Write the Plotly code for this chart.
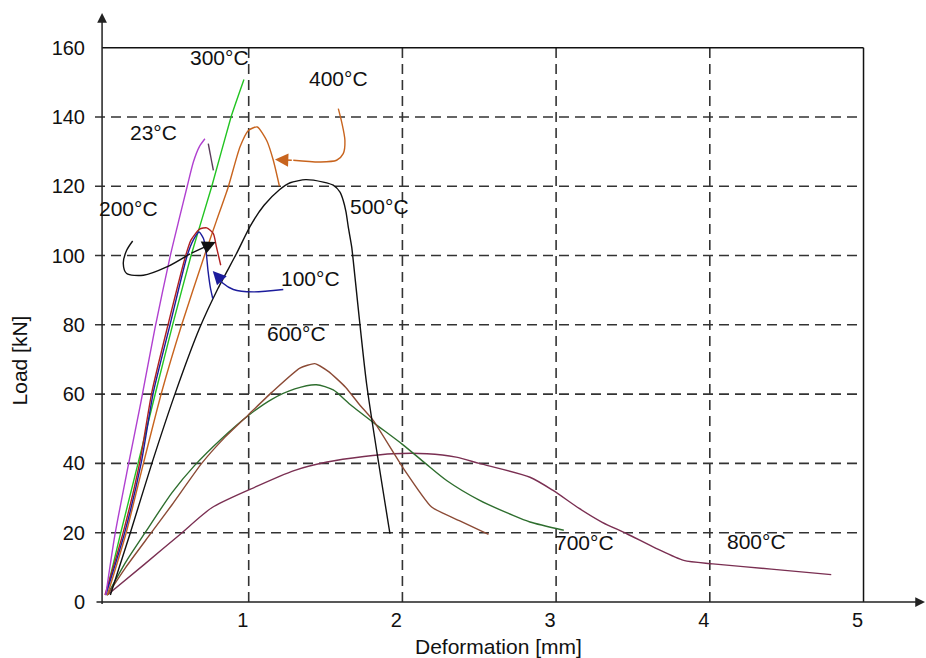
import plotly.graph_objects as go

# ---------------- data ----------------
x_ticks = [1, 2, 3, 4, 5]
y_ticks = [0, 20, 40, 60, 80, 100, 120, 140, 160]

t23_x = [0.07, 0.13, 0.21, 0.30, 0.39, 0.49, 0.55, 0.60, 0.64, 0.68, 0.715]
t23_y = [2, 19.5, 38, 58, 79, 100, 111, 120, 127, 131.5, 133.7]
t23_unload_x = [0.737, 0.77]
t23_unload_y = [132.3, 124.6]

t300_x = [0.07, 0.165, 0.28, 0.395, 0.505, 0.625, 0.76, 0.885, 0.969]
t300_y = [2, 19.5, 40, 60.6, 80, 100, 120, 140, 150.8]

t100_x = [0.07, 0.19, 0.30, 0.38, 0.488, 0.6, 0.64, 0.677, 0.705, 0.722, 0.735, 0.75, 0.766]
t100_y = [2, 19.5, 40, 60.6, 80, 100, 104.5, 106.8, 105, 101.5, 95.7, 90.9, 87.6]

t200_x = [0.065, 0.18, 0.29, 0.37, 0.475, 0.59, 0.625, 0.68, 0.727, 0.77, 0.79, 0.818]
t200_y = [2, 19.5, 40, 60.6, 80, 100, 104.5, 107.6, 108, 106.3, 102.5, 97.2]

t400_x = [0.08, 0.2, 0.315, 0.434, 0.564, 0.709, 0.79, 0.867, 0.943, 0.998, 1.056, 1.117, 1.16, 1.2]
t400_y = [2, 19.5, 40, 60.6, 80, 99.6, 110, 119.8, 131.3, 136.1, 137.1, 133.2, 127.5, 120]

t500_x = [0.1, 0.23, 0.37, 0.52, 0.68, 0.8, 0.92, 1.01, 1.1, 1.2, 1.27, 1.37,
          1.485, 1.55, 1.594, 1.615, 1.633, 1.648, 1.67, 1.68, 1.767, 1.919]
t500_y = [2, 20, 40, 60, 79, 90.5, 100.5, 108.5, 114.5, 119, 121, 121.9,
          121.2, 120.3, 118.3, 115.9, 112.6, 108.2, 102.5, 98.6, 63, 19.7]

t600_x = [0.08, 0.2, 0.358, 0.5, 0.694, 0.84, 0.997, 1.15, 1.333, 1.43, 1.52, 1.63,
          1.72, 1.81, 2.0, 2.19, 2.37, 2.56]
t600_y = [2, 10, 19.5, 28, 40, 47.3, 54, 60.5, 67.5, 68.8, 66.5, 62,
          57, 52.4, 39, 27.4, 23.5, 19.5]

t700_x = [0.08, 0.2, 0.326, 0.5, 0.65, 0.82, 1.0, 1.15, 1.3, 1.44, 1.55, 1.66,
          1.82, 2.0, 2.15, 2.29, 2.5, 2.72, 2.83, 3.05]
t700_y = [2, 11.5, 20, 31.5, 39.5, 47, 53.9, 58.5, 61.5, 62.7, 61.2, 57,
          51.5, 45.5, 40, 35, 29.4, 25, 23.1, 20.7]

t800_x = [0.08, 0.325, 0.553, 0.76, 1.008, 1.3, 1.51, 1.75, 1.94, 2.16, 2.35, 2.5,
          2.83, 2.98, 3.15, 3.3, 3.46, 3.65, 3.83, 4.02, 4.4, 4.79]
t800_y = [2, 11, 19.5, 27.2, 32.5, 38, 40.4, 42, 42.8, 42.8, 41.8, 40,
          36, 32.2, 27, 23, 19.7, 15.5, 12, 11, 9.5, 7.9]

# callout leader curves (label -> curve)
c400_x = [1.583, 1.605, 1.626, 1.615, 1.572, 1.464, 1.29, 1.171]
c400_y = [142.4, 138.5, 133.2, 129.4, 127.5, 127, 127.5, 127.7]
c100_x = [1.225, 1.03, 0.9, 0.835, 0.802, 0.766]
c100_y = [90.2, 89.5, 90.2, 91.9, 93.8, 95.5]
c200_x = [0.245, 0.206, 0.184, 0.206, 0.315, 0.467, 0.618, 0.785]
c200_y = [104.2, 101.5, 97.7, 94.8, 94.3, 96.7, 100.5, 103.9]

labels = ["300°C", "400°C", "23°C", "200°C", "500°C", "100°C", "600°C", "700°C", "800°C"]
label_x = [0.807, 1.581, 0.378, 0.215, 1.854, 1.399, 1.308, 3.187, 4.306]
label_y = [157.2, 151.1, 135.6, 113.6, 114.2, 93.4, 77.5, 17.2, 17.5]

# ---------------- styling ----------------
FONT = "Liberation Sans, Arial, sans-serif"
X_MAX, Y_MAX = 5.4, 170
AXIS_X = 0.046
GRID_DASH = "10px,6px"
GRID_COLOR = "#333333"

fig = go.Figure()

series = [
    (t800_x, t800_y, "#7a2f52", "800°C", 0.7),
    (t700_x, t700_y, "#2e6e2e", "700°C", 0.7),
    (t600_x, t600_y, "#8b4a35", "600°C", 0.5),
    (t500_x, t500_y, "#111111", "500°C", 0.6),
    (t400_x, t400_y, "#c8641e", "400°C", 0.6),
    (t300_x, t300_y, "#22c422", "300°C", 0.3),
    (t200_x, t200_y, "#b02020", "200°C", 0.6),
    (t100_x, t100_y, "#1c1c9c", "100°C", 0.6),
    (t23_x, t23_y, "#b040d0", "23°C", 0.6),
    (t23_unload_x, t23_unload_y, "#5a3d5a", "23°C unload", 0.0),
]
for xs, ys, col, name, sm in series:
    fig.add_trace(go.Scatter(
        x=xs, y=ys, mode="lines", name=name,
        line=dict(color=col, width=1.4, shape="spline" if sm > 0 else "linear",
                  smoothing=sm if sm > 0 else None),
        hoverinfo="skip", showlegend=False))

callouts = [
    (c400_x, c400_y, "#c8641e"),
    (c100_x, c100_y, "#1c1c9c"),
    (c200_x, c200_y, "#111111"),
]
annotations = []
for xs, ys, col in callouts:
    fig.add_trace(go.Scatter(
        x=xs[:-1], y=ys[:-1], mode="lines",
        line=dict(color=col, width=1.4, shape="spline", smoothing=0.8),
        hoverinfo="skip", showlegend=False))
    annotations.append(dict(
        x=xs[-1], y=ys[-1], ax=xs[-2], ay=ys[-2], xref="x", yref="y",
        axref="x", ayref="y", text="", showarrow=True, arrowhead=2,
        arrowsize=1.9, arrowwidth=1.4, arrowcolor=col, standoff=0))

# gridlines (dashed) and frame lines (solid)
shapes = []
for yv in y_ticks[1:-1]:
    shapes.append(dict(type="line", xref="x", yref="y", x0=0, x1=x_ticks[-1], y0=yv, y1=yv,
                       line=dict(color=GRID_COLOR, width=1.6, dash=GRID_DASH), layer="below"))
for xv in x_ticks[:-1]:
    shapes.append(dict(type="line", xref="x", yref="y", x0=xv, x1=xv, y0=0, y1=y_ticks[-1],
                       line=dict(color=GRID_COLOR, width=1.6, dash=GRID_DASH), layer="below"))
shapes.append(dict(type="line", xref="x", yref="y", x0=AXIS_X, x1=x_ticks[-1],
                   y0=y_ticks[-1], y1=y_ticks[-1], line=dict(color="#111", width=1.5), layer="below"))
shapes.append(dict(type="line", xref="x", yref="y", x0=x_ticks[-1], x1=x_ticks[-1],
                   y0=0, y1=y_ticks[-1], line=dict(color="#111", width=1.5), layer="below"))

# axis lines with arrow heads
annotations.append(dict(x=X_MAX, y=0, ax=0, ay=0, xref="x", yref="y", axref="x", ayref="y",
                        text="", showarrow=True, arrowhead=2, arrowsize=1.3, arrowwidth=1.5,
                        arrowcolor="#222", standoff=0))
annotations.append(dict(x=AXIS_X, y=Y_MAX, ax=AXIS_X, ay=-1, xref="x", yref="y", axref="x",
                        ayref="y", text="", showarrow=True, arrowhead=2, arrowsize=1.3,
                        arrowwidth=1.5, arrowcolor="#222", standoff=0))

for t, lx, ly in zip(labels, label_x, label_y):
    annotations.append(dict(x=lx, y=ly, xref="x", yref="y", text=t, showarrow=False,
                            font=dict(family=FONT, size=21, color="#111"),
                            xanchor="center", yanchor="middle"))

annotations.append(dict(x=2.622, y=-0.0752, xref="x", yref="paper", text="Deformation [mm]",
                        showarrow=False, font=dict(family=FONT, size=21, color="#111"),
                        xanchor="center", yanchor="middle"))
annotations.append(dict(x=-0.0904, y=0.41, xref="paper", yref="paper", text="Load [kN]",
                        textangle=-90, showarrow=False,
                        font=dict(family=FONT, size=21, color="#111"),
                        xanchor="center", yanchor="middle"))

fig.update_layout(
    width=926, height=658,
    margin=dict(l=95, r=1, t=13, b=56, pad=0),
    paper_bgcolor="white", plot_bgcolor="white",
    shapes=shapes, annotations=annotations,
    xaxis=dict(range=[0, X_MAX], showgrid=False, zeroline=False, showline=False,
               tickvals=x_ticks, ticktext=[str(v) for v in x_ticks], ticks="",
               tickfont=dict(family=FONT, size=20, color="#111"),
               ticklabelshift=-6, ticklabelstandoff=4, fixedrange=True),
    yaxis=dict(range=[0, Y_MAX], showgrid=False, zeroline=False, showline=False,
               tickvals=y_ticks, ticktext=[str(v) for v in y_ticks], ticks="",
               tickfont=dict(family=FONT, size=20, color="#111"),
               ticklabelstandoff=9, fixedrange=True),
)

fig.write_html("out.html")
